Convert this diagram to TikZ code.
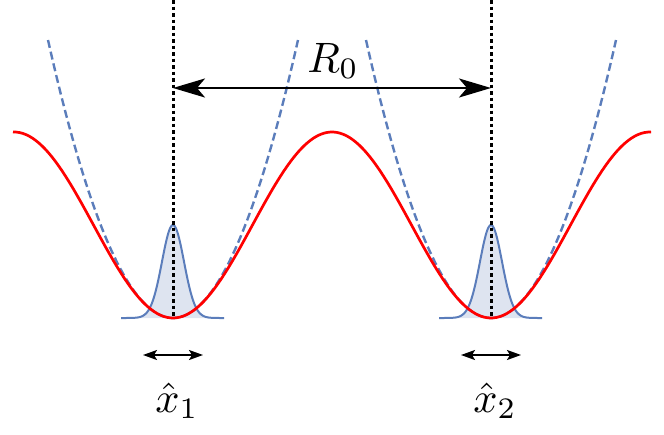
\documentclass[tikz,border=0pt]{standalone}
\usetikzlibrary{arrows.meta}
\definecolor{potred}{RGB}{255,0,0}
\definecolor{harmblue}{RGB}{91,125,187}
\definecolor{wavefill}{RGB}{222,228,240}
\tikzset{
  potential/.style={potred, line width=2.7pt},
  harmonic/.style={harmblue, line width=2.4pt, dash pattern=on 8pt off 4pt},
  wave/.style={harmblue, line width=2pt},
  wavefillstyle/.style={fill=wavefill, draw=none},
  guide/.style={black, line width=3pt, dash pattern=on 3.5pt off 3pt},
  bigarrow/.style={black, line width=2.6pt, {Stealth[length=32pt,width=19pt,inset=8pt]}-{Stealth[length=32pt,width=19pt,inset=8pt]}},
  smallarrow/.style={black, line width=1.8pt, {Stealth[length=14pt,width=10pt,inset=3pt]}-{Stealth[length=14pt,width=10pt,inset=3pt]}},
  lbl/.style={scale=4.25, inner sep=0pt, anchor=base}
}
\begin{document}
\begin{tikzpicture}[x=1pt,y=-1pt]
\useasboundingbox (0,0) rectangle (664,434);
% wavepackets (fill)
\foreach \c in {173,491}{
  \fill[wavefillstyle] plot[domain=\c-52:\c+51, samples=120, smooth] (\x,{318-93*exp(-((\x-\c)^2)/(2*11^2))}) -- cycle;
}
% harmonic approximations
\draw[harmonic] plot[domain=48:298, samples=80, smooth] (\x,{318-0.01779*(\x-173)*(\x-173)});
\draw[harmonic] plot[domain=366:616, samples=80, smooth] (\x,{318-0.01779*(\x-491)*(\x-491)});
% wavepacket outlines
\foreach \c in {173,491}{
  \draw[wave] plot[domain=\c-52:\c+51, samples=120, smooth] (\x,{318-93*exp(-((\x-\c)^2)/(2*11^2))});
}
% potential
\draw[potential] plot[domain=13:651, samples=200, smooth] (\x,{225+93*cos(1.132075*(\x-173))});
% guides
\coordinate (t1) at (173,0);
\coordinate (m1) at (173,318);
\coordinate (t2) at (491,0);
\coordinate (m2) at (491,318);
\draw[guide] (t1) -- (m1);
\draw[guide] (t2) -- (m2);
% R0 arrow
\coordinate (a1) at (173,88);
\coordinate (a2) at (491,88);
\draw[bigarrow] (a1) -- (a2);
\node[lbl] (R0) at (333,72) {$R_0$};
% small arrows
\coordinate (s1l) at (143,355);
\coordinate (s1r) at (203,355);
\coordinate (s2l) at (461,355);
\coordinate (s2r) at (521,355);
\draw[smallarrow] (s1l) -- (s1r);
\draw[smallarrow] (s2l) -- (s2r);
\node[lbl] (x1) at (177,412) {$\hat{x}_1$};
\node[lbl] (x2) at (495,412) {$\hat{x}_2$};
\end{tikzpicture}
\end{document}
